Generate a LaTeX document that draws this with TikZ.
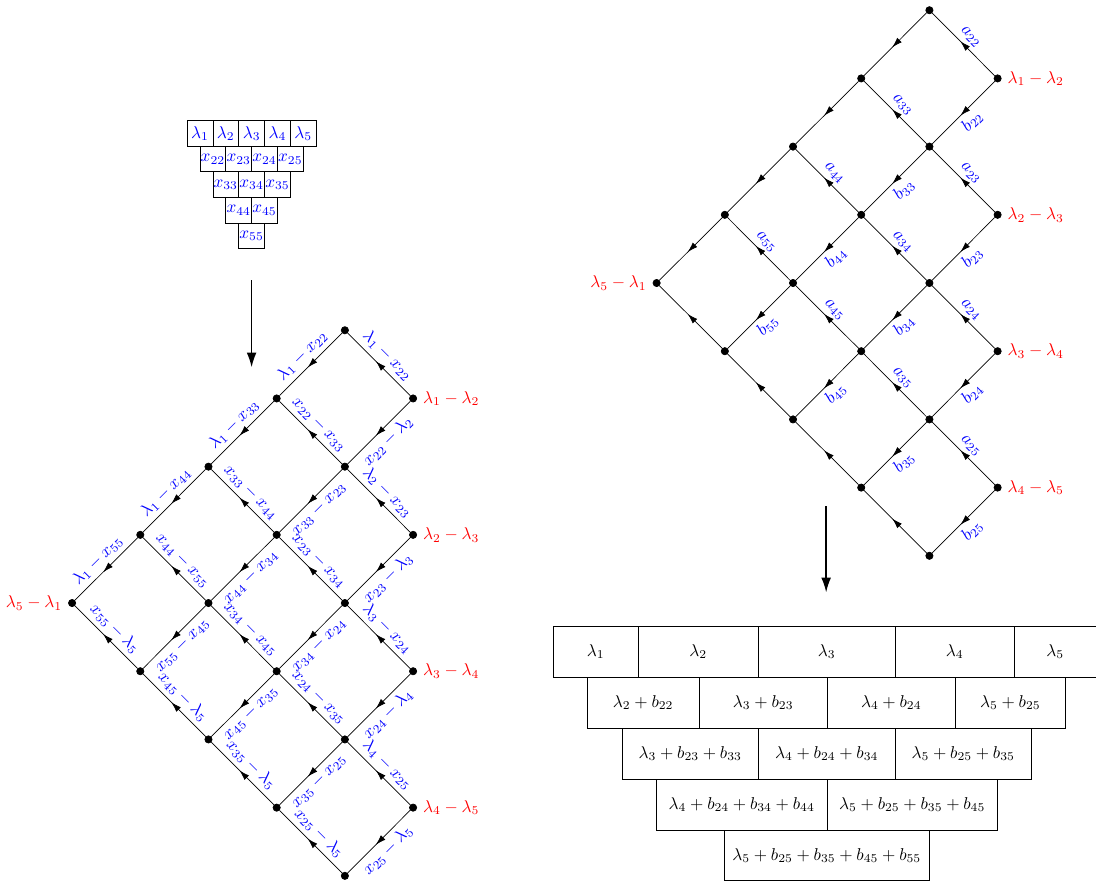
\documentclass[tikz,border=0pt]{standalone}
\usepackage{amsmath}
\usepackage{amssymb}
\usepackage{tikz}
\usepackage{xcolor}
\usetikzlibrary{positioning, arrows, arrows.meta, decorations.markings}

\tikzset{
  vtx/.style={circle, draw, fill, inner sep=1.5pt},
  flow/.style={postaction={decorate}, decoration={markings, mark=at position 0.55 with {\arrow{Latex[length=2.1mm, width=1.3mm]}}}},
  lab/.style={sloped, text=blue, inner sep=2.8pt},
  box/.style={draw, minimum width=0.53cm, minimum height=0.525cm, inner sep=0pt, text=blue},
  cell/.style={draw, minimum height=1.045cm, inner sep=0pt},
}

\begin{document}
\begin{tikzpicture}
    \useasboundingbox (0, 0) rectangle (22.5, 18.09);

    % tableau of x's
    \node[box] (c1) at (4.105, 15.35) {$\lambda_1$};
    \node[box] (c2) at (4.635, 15.35) {$\lambda_2$};
    \node[box] (c3) at (5.165, 15.35) {$\lambda_3$};
    \node[box] (c4) at (5.695, 15.35) {$\lambda_4$};
    \node[box] (c5) at (6.225, 15.35) {$\lambda_5$};
    \node[box] (x22) at (4.37, 14.825) {$x_{22}$};
    \node[box] (x23) at (4.90, 14.825) {$x_{23}$};
    \node[box] (x24) at (5.43, 14.825) {$x_{24}$};
    \node[box] (x25) at (5.96, 14.825) {$x_{25}$};
    \node[box] (x33) at (4.635, 14.30) {$x_{33}$};
    \node[box] (x34) at (5.165, 14.30) {$x_{34}$};
    \node[box] (x35) at (5.695, 14.30) {$x_{35}$};
    \node[box] (x44) at (4.90, 13.775) {$x_{44}$};
    \node[box] (x45) at (5.43, 13.775) {$x_{45}$};
    \node[box] (x55) at (5.165, 13.25) {$x_{55}$};

    \coordinate (down1) at (5.165, 12.34);
    \coordinate (down2) at (5.165, 10.55);
    \draw[thick, -{Latex[length=3mm, width=2mm]}] (down1) -- (down2);

    % left graph
    \node[vtx] (l00) at (7.08, 11.31) {};
    \node[vtx, label={[red]0:$\lambda_1-\lambda_2$}] (l01) at (8.48, 9.91) {};
    \node[vtx] (l10) at (5.68, 9.91) {};
    \node[vtx] (l11) at (7.08, 8.51) {};
    \node[vtx, label={[red]0:$\lambda_2-\lambda_3$}] (l12) at (8.48, 7.11) {};
    \node[vtx] (l20) at (4.28, 8.51) {};
    \node[vtx] (l21) at (5.68, 7.11) {};
    \node[vtx] (l22) at (7.08, 5.71) {};
    \node[vtx, label={[red]0:$\lambda_3-\lambda_4$}] (l23) at (8.48, 4.31) {};
    \node[vtx] (l30) at (2.88, 7.11) {};
    \node[vtx] (l31) at (4.28, 5.71) {};
    \node[vtx] (l32) at (5.68, 4.31) {};
    \node[vtx] (l33) at (7.08, 2.91) {};
    \node[vtx, label={[red]0:$\lambda_4-\lambda_5$}] (l34) at (8.48, 1.51) {};
    \node[vtx, label={[red]180:$\lambda_5-\lambda_1$}] (l40) at (1.48, 5.71) {};
    \node[vtx] (l41) at (2.88, 4.31) {};
    \node[vtx] (l42) at (4.28, 2.91) {};
    \node[vtx] (l43) at (5.68, 1.51) {};
    \node[vtx] (l44) at (7.08, 0.11) {};

    \draw[flow] (l00) -- node[lab, above] {$\lambda_1-x_{22}$} (l10);
    \draw[flow] (l10) -- node[lab, above] {$\lambda_1-x_{33}$} (l20);
    \draw[flow] (l20) -- node[lab, above] {$\lambda_1-x_{44}$} (l30);
    \draw[flow] (l30) -- node[lab, above] {$\lambda_1-x_{55}$} (l40);
    \draw[flow] (l01) -- node[lab, below] {$x_{22}-\lambda_2$} (l11);
    \draw[flow] (l11) -- node[lab, below] {$x_{33}-x_{23}$} (l21);
    \draw[flow] (l21) -- node[lab, below] {$x_{44}-x_{34}$} (l31);
    \draw[flow] (l31) -- node[lab, below] {$x_{55}-x_{45}$} (l41);
    \draw[flow] (l12) -- node[lab, below] {$x_{23}-\lambda_3$} (l22);
    \draw[flow] (l22) -- node[lab, below] {$x_{34}-x_{24}$} (l32);
    \draw[flow] (l32) -- node[lab, below] {$x_{45}-x_{35}$} (l42);
    \draw[flow] (l23) -- node[lab, below] {$x_{24}-\lambda_4$} (l33);
    \draw[flow] (l33) -- node[lab, below] {$x_{35}-x_{25}$} (l43);
    \draw[flow] (l34) -- node[lab, below] {$x_{25}-\lambda_5$} (l44);

    \draw[flow] (l01) -- node[lab, above] {$\lambda_1-x_{22}$} (l00);
    \draw[flow] (l11) -- node[lab, above] {$x_{22}-x_{33}$} (l10);
    \draw[flow] (l12) -- node[lab, above] {$\lambda_2-x_{23}$} (l11);
    \draw[flow] (l21) -- node[lab, above] {$x_{33}-x_{44}$} (l20);
    \draw[flow] (l22) -- node[lab, above] {$x_{23}-x_{34}$} (l21);
    \draw[flow] (l23) -- node[lab, above] {$\lambda_3-x_{24}$} (l22);
    \draw[flow] (l31) -- node[lab, above] {$x_{44}-x_{55}$} (l30);
    \draw[flow] (l32) -- node[lab, above] {$x_{34}-x_{45}$} (l31);
    \draw[flow] (l33) -- node[lab, above] {$x_{24}-x_{35}$} (l32);
    \draw[flow] (l34) -- node[lab, above] {$\lambda_4-x_{25}$} (l33);
    \draw[flow] (l41) -- node[lab, above] {$x_{55}-\lambda_5$} (l40);
    \draw[flow] (l42) -- node[lab, above] {$x_{45}-\lambda_5$} (l41);
    \draw[flow] (l43) -- node[lab, above] {$x_{35}-\lambda_5$} (l42);
    \draw[flow] (l44) -- node[lab, above] {$x_{25}-\lambda_5$} (l43);

    % right graph
    \node[vtx] (q00) at (19.08, 17.88) {};
    \node[vtx, label={[red]0:$\lambda_1-\lambda_2$}] (q01) at (20.48, 16.48) {};
    \node[vtx] (q10) at (17.68, 16.48) {};
    \node[vtx] (q11) at (19.08, 15.08) {};
    \node[vtx, label={[red]0:$\lambda_2-\lambda_3$}] (q12) at (20.48, 13.68) {};
    \node[vtx] (q20) at (16.28, 15.08) {};
    \node[vtx] (q21) at (17.68, 13.68) {};
    \node[vtx] (q22) at (19.08, 12.28) {};
    \node[vtx, label={[red]0:$\lambda_3-\lambda_4$}] (q23) at (20.48, 10.88) {};
    \node[vtx] (q30) at (14.88, 13.68) {};
    \node[vtx] (q31) at (16.28, 12.28) {};
    \node[vtx] (q32) at (17.68, 10.88) {};
    \node[vtx] (q33) at (19.08, 9.48) {};
    \node[vtx, label={[red]0:$\lambda_4-\lambda_5$}] (q34) at (20.48, 8.08) {};
    \node[vtx, label={[red]180:$\lambda_5-\lambda_1$}] (q40) at (13.48, 12.28) {};
    \node[vtx] (q41) at (14.88, 10.88) {};
    \node[vtx] (q42) at (16.28, 9.48) {};
    \node[vtx] (q43) at (17.68, 8.08) {};
    \node[vtx] (q44) at (19.08, 6.68) {};

    \draw[flow] (q00) -- (q10);
    \draw[flow] (q10) -- (q20);
    \draw[flow] (q20) -- (q30);
    \draw[flow] (q30) -- (q40);
    \draw[flow] (q01) -- node[lab, below] {$b_{22}$} (q11);
    \draw[flow] (q11) -- node[lab, below] {$b_{33}$} (q21);
    \draw[flow] (q21) -- node[lab, below] {$b_{44}$} (q31);
    \draw[flow] (q31) -- node[lab, below] {$b_{55}$} (q41);
    \draw[flow] (q12) -- node[lab, below] {$b_{23}$} (q22);
    \draw[flow] (q22) -- node[lab, below] {$b_{34}$} (q32);
    \draw[flow] (q32) -- node[lab, below] {$b_{45}$} (q42);
    \draw[flow] (q23) -- node[lab, below] {$b_{24}$} (q33);
    \draw[flow] (q33) -- node[lab, below] {$b_{35}$} (q43);
    \draw[flow] (q34) -- node[lab, below] {$b_{25}$} (q44);

    \draw[flow] (q01) -- node[lab, above] {$a_{22}$} (q00);
    \draw[flow] (q11) -- node[lab, above] {$a_{33}$} (q10);
    \draw[flow] (q12) -- node[lab, above] {$a_{23}$} (q11);
    \draw[flow] (q21) -- node[lab, above] {$a_{44}$} (q20);
    \draw[flow] (q22) -- node[lab, above] {$a_{34}$} (q21);
    \draw[flow] (q23) -- node[lab, above] {$a_{24}$} (q22);
    \draw[flow] (q31) -- node[lab, above] {$a_{55}$} (q30);
    \draw[flow] (q32) -- node[lab, above] {$a_{45}$} (q31);
    \draw[flow] (q33) -- node[lab, above] {$a_{35}$} (q32);
    \draw[flow] (q34) -- node[lab, above] {$a_{25}$} (q33);
    \draw[flow] (q41) -- (q40);
    \draw[flow] (q42) -- (q41);
    \draw[flow] (q43) -- (q42);
    \draw[flow] (q44) -- (q43);

    \coordinate (down3) at (16.96, 7.70);
    \coordinate (down4) at (16.96, 5.93);
    \draw[thick, -{Latex[length=3mm, width=2mm]}] (down3) -- (down4);

    % table of sums
    \node[cell, minimum width=1.745cm] (w11) at (12.228, 4.71) {$\lambda_1$};
    \node[cell, minimum width=2.465cm] (w12) at (14.333, 4.71) {$\lambda_2$};
    \node[cell, minimum width=2.813cm] (w13) at (16.972, 4.71) {$\lambda_3$};
    \node[cell, minimum width=2.442cm] (w14) at (19.599, 4.71) {$\lambda_4$};
    \node[cell, minimum width=1.685cm] (w15) at (21.663, 4.71) {$\lambda_5$};
    \node[cell, minimum width=2.300cm] (w21) at (13.203, 3.665) {$\lambda_2+b_{22}$};
    \node[cell, minimum width=2.629cm] (w22) at (15.668, 3.665) {$\lambda_3+b_{23}$};
    \node[cell, minimum width=2.628cm] (w23) at (18.296, 3.665) {$\lambda_4+b_{24}$};
    \node[cell, minimum width=2.259cm] (w24) at (20.740, 3.665) {$\lambda_5+b_{25}$};
    \node[cell, minimum width=2.793cm] (w31) at (14.169, 2.62) {$\lambda_3+b_{23}+b_{33}$};
    \node[cell, minimum width=2.813cm] (w32) at (16.972, 2.62) {$\lambda_4+b_{24}+b_{34}$};
    \node[cell, minimum width=2.792cm] (w33) at (19.774, 2.62) {$\lambda_5+b_{25}+b_{35}$};
    \node[cell, minimum width=3.512cm] (w41) at (15.226, 1.575) {$\lambda_4+b_{24}+b_{34}+b_{44}$};
    \node[cell, minimum width=3.490cm] (w42) at (18.727, 1.575) {$\lambda_5+b_{25}+b_{35}+b_{45}$};
    \node[cell, minimum width=4.209cm] (w51) at (16.972, 0.53) {$\lambda_5+b_{25}+b_{35}+b_{45}+b_{55}$};
\end{tikzpicture}
\end{document}
